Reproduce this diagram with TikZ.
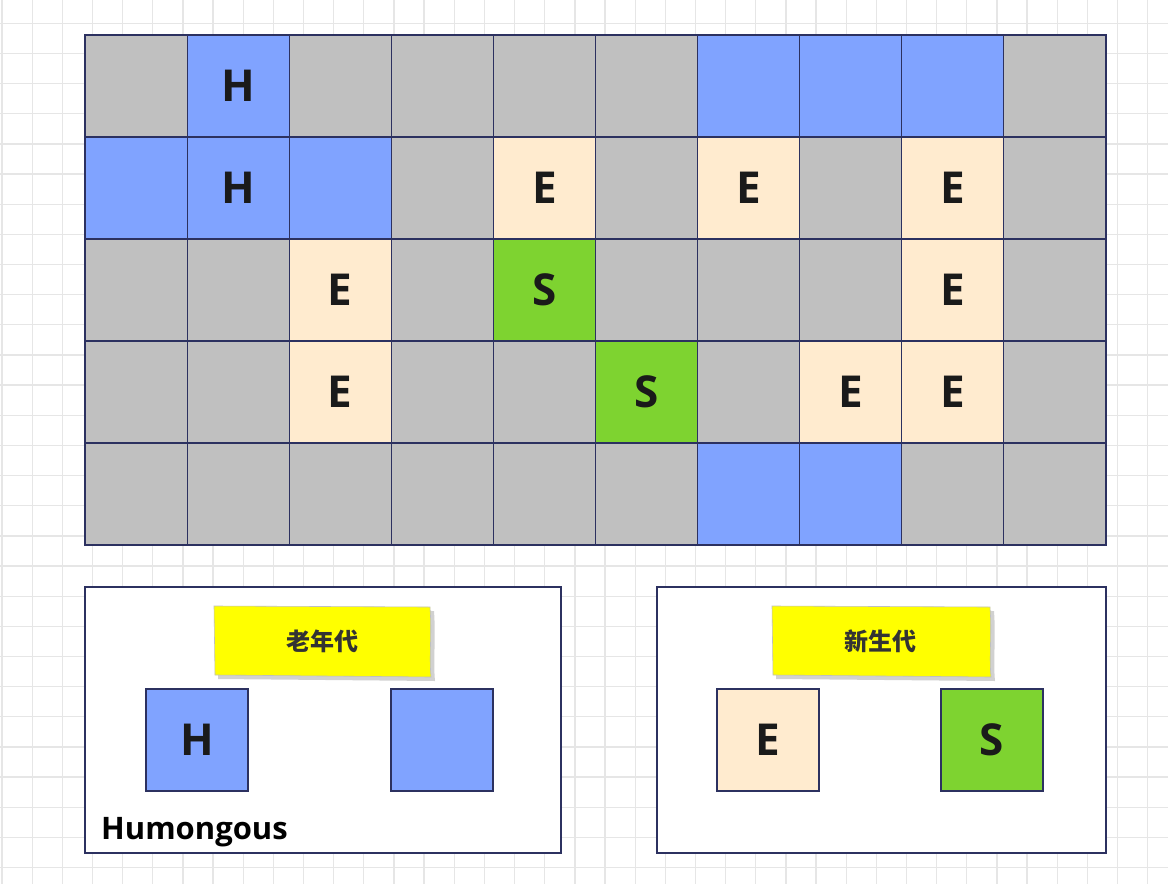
\documentclass[tikz,border=0pt]{standalone}
\usepackage{fontspec}
\setmainfont{Open Sans}
\newfontfamily\cjk{Noto Sans CJK SC}
\definecolor{cg}{HTML}{C0C0C0}
\definecolor{cb}{HTML}{80A3FF}
\definecolor{ce}{HTML}{FFEBCF}
\definecolor{cs}{HTML}{7ED330}
\definecolor{bord}{HTML}{2C3160}
\definecolor{gridc}{HTML}{E6E6E6}
\definecolor{ink}{HTML}{1A1A1A}
\definecolor{note}{HTML}{FFFF00}
\tikzset{
  cell/.style={draw=bord, line width=1.1pt, minimum width=102.1pt, minimum height=102pt, inner sep=0pt, text=ink, font=\fontsize{44}{44}\selectfont\bfseries},
  legbox/.style={draw=bord, line width=1.1pt, minimum width=102pt, minimum height=102pt, inner sep=0pt, text=ink, font=\fontsize{44}{44}\selectfont\bfseries},
  panel/.style={draw=bord, line width=1.1pt, fill=white, inner sep=0pt},
  notetext/.style={text=black!80, font=\cjk\fontsize{24}{24}\selectfont\bfseries},
  gridline/.style={gridc, line width=1.3pt}
}
\begin{document}
\begin{tikzpicture}[x=1pt,y=-1pt]
\useasboundingbox (0,0) rectangle (1168,884);
\fill[white] (0,0) rectangle (1168,884);
% background grid
\foreach \k in {0,...,38} {\draw[gridline] ({2+30.15*\k},0) -- ({2+30.15*\k},884);}
\foreach \k in {0,...,28} {\draw[gridline] (0,{23.3+30.15*\k}) -- (1168,{23.3+30.15*\k});}
% main grid
\foreach \t/\l [count=\c from 0] in {cg/,cb/H,cg/,cg/,cg/,cg/,cb/,cb/,cb/,cg/}
  {\node[cell,fill=\t] (r0c\c) at ({136.05+102.1*\c},86) {\l};}
\foreach \t/\l [count=\c from 0] in {cb/,cb/H,cb/,cg/,ce/E,cg/,ce/E,cg/,ce/E,cg/}
  {\node[cell,fill=\t] (r1c\c) at ({136.05+102.1*\c},188) {\l};}
\foreach \t/\l [count=\c from 0] in {cg/,cg/,ce/E,cg/,cs/S,cg/,cg/,cg/,ce/E,cg/}
  {\node[cell,fill=\t] (r2c\c) at ({136.05+102.1*\c},290) {\l};}
\foreach \t/\l [count=\c from 0] in {cg/,cg/,ce/E,cg/,cg/,cs/S,cg/,ce/E,ce/E,cg/}
  {\node[cell,fill=\t] (r3c\c) at ({136.05+102.1*\c},392) {\l};}
\foreach \t/\l [count=\c from 0] in {cg/,cg/,cg/,cg/,cg/,cg/,cb/,cb/,cg/,cg/}
  {\node[cell,fill=\t] (r4c\c) at ({136.05+102.1*\c},494) {\l};}
% panels
\node[panel, minimum width=476pt, minimum height=266pt] (oldpanel) at (323,720) {};
\node[panel, minimum width=449pt, minimum height=266pt] (newpanel) at (881.5,720) {};
% sticky notes
\fill[black!18] (218,610) -- (434,611) .. controls (436,640) and (433,660) .. (435,681) -- (218,679) -- cycle;
\filldraw[fill=note, draw=black!25, line width=0.6pt] (214,606) -- (430,607) .. controls (432,635) and (429,655) .. (431,677) -- (215,675) -- cycle;
\node[notetext] (oldnote) at (322,641) {老年代};
\fill[black!18] (776,610) -- (994,611) .. controls (996,640) and (993,660) .. (995,681) -- (776,679) -- cycle;
\filldraw[fill=note, draw=black!25, line width=0.6pt] (772,606) -- (990,607) .. controls (992,635) and (989,655) .. (991,677) -- (773,675) -- cycle;
\node[notetext] (newnote) at (880,641) {新生代};
% legend boxes
\node[legbox, fill=cb] (legH) at (197,740) {H};
\node[legbox, fill=cb] (legB) at (442,740) {};
\node[legbox, fill=ce] (legE) at (768,740) {E};
\node[legbox, fill=cs] (legS) at (992,740) {S};
\node[anchor=base west, inner sep=0pt, text=black, font=\fontsize{31}{31}\selectfont\bfseries] (humo) at (101,839) {Humongous};
\end{tikzpicture}
\end{document}
